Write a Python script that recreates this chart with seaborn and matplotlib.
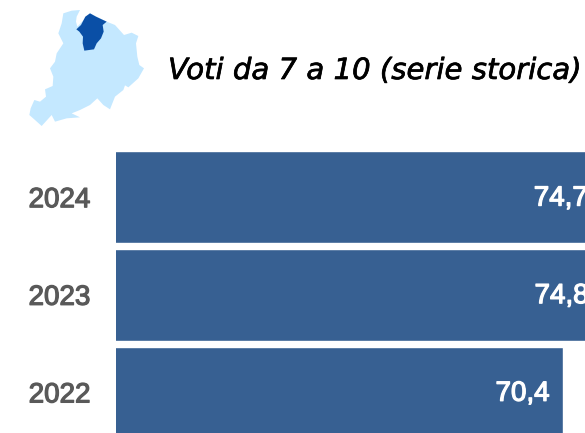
import matplotlib
matplotlib.use("Agg")
import matplotlib.pyplot as plt
import matplotlib.patheffects as pe
from matplotlib.patches import Polygon
import pandas as pd
import seaborn as sns

years = ["2024", "2023", "2022"]
values = [74.7, 74.8, 70.4]
title = "Voti da 7 a 10 (serie storica)"

# icon outlines, traced in pixels of a 3x crop
region_outline = [
    (190, 40), (215, 32), (240, 30), (230, 50), (228, 65), (232, 80), (270, 40),
    (320, 65), (345, 75), (372, 105), (395, 98), (415, 108), (408, 130), (412, 170),
    (418, 195), (432, 205), (415, 235), (385, 262), (375, 256), (370, 270), (345, 290),
    (330, 328), (310, 315), (292, 295), (270, 315), (240, 330), (215, 340), (240, 352),
    (200, 355), (165, 365), (155, 345), (125, 378), (105, 360), (88, 345), (92, 325),
    (103, 300), (120, 305), (138, 290), (135, 268), (158, 258), (160, 230), (150, 205),
    (165, 185), (170, 160), (190, 130), (175, 100), (185, 70),
]
area_outline = [
    (270, 40), (288, 50), (320, 65), (308, 75), (311, 95), (303, 115), (290, 130),
    (282, 148), (253, 152), (248, 130), (249, 110), (238, 95), (229, 88), (243, 75),
    (256, 50),
]

W, H = 585, 433
sns.set_theme(style="white")
plt.rcParams["font.family"] = ["Liberation Sans", "DejaVu Sans"]

df = pd.DataFrame({"year": years, "value": values})
heavier = [pe.withStroke(linewidth=0.9, foreground="#595959")]

fig = plt.figure(figsize=(W / 100, H / 100), dpi=100)
ax = fig.add_axes([116 / W, 0, 1 - 116 / W, 293 / H])

sns.barplot(data=df, x="value", y="year", orient="h", color="#376092",
            saturation=1, width=0.94, ax=ax)
ax.set_xlim(20, 72.9)
ax.set_ylim(2.416, -0.586)
ax.set_xlabel("")
ax.set_ylabel("")
ax.set_xticks([])
ax.tick_params(axis="y", length=0, pad=18.5)
for lab in ax.get_yticklabels():
    lab.set_fontsize(20)
    lab.set_color("#595959")
    lab.set_path_effects(heavier)
sns.despine(ax=ax, left=True, bottom=True)

for i, v in enumerate(values):
    ax.annotate(f"{v:.1f}".replace(".", ","), (v, i), xytext=(-9.5, -1),
                textcoords="offset points", ha="right", va="center",
                color="white", fontsize=20, annotation_clip=False,
                path_effects=[pe.withStroke(linewidth=0.9, foreground="white")])

# small map in the top left corner
icon = fig.add_axes([0, 0, 1, 1], zorder=3)
icon.set_xlim(0, W)
icon.set_ylim(H, 0)
icon.axis("off")
icon.add_patch(Polygon([(x / 3, y / 3) for x, y in region_outline], fc="#C4E8FF", ec="none"))
icon.add_patch(Polygon([(x / 3, y / 3) for x, y in area_outline], fc="#0A4FA6", ec="none"))

fig.text(168 / W, 1 - 71 / H, title, fontsize=21, family="DejaVu Sans",
         style="oblique", color="black", va="center",
         path_effects=[pe.withStroke(linewidth=0.5, foreground="black")])

fig.savefig("out.png", dpi=100)
